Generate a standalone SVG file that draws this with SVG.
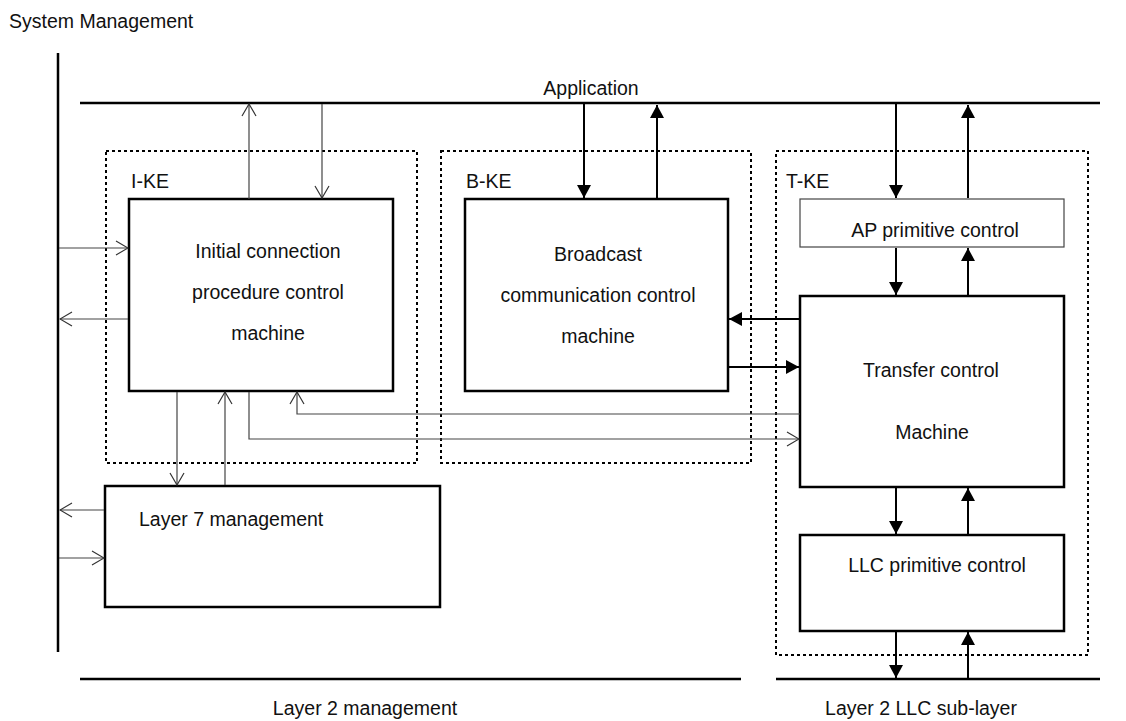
<svg xmlns="http://www.w3.org/2000/svg" width="1126" height="721" viewBox="0 0 1126 721">
<defs>
<marker id="open" markerUnits="userSpaceOnUse" markerWidth="14" markerHeight="16" viewBox="0 0 14 16" refX="13" refY="8" orient="auto">
<path d="M1,1 L13,8 L1,15" fill="none" stroke="#333" stroke-width="1.2"/>
</marker>
<marker id="fill" markerUnits="userSpaceOnUse" markerWidth="14" markerHeight="16" viewBox="0 0 14 16" refX="13" refY="8" orient="auto">
<path d="M0,1 L13,8 L0,15 Z" fill="#000"/>
</marker>
<style>
text{font-family:"Liberation Sans",Arial,sans-serif;font-size:19.5px;fill:#111}
.c{text-anchor:middle}
.rule{stroke:#000;stroke-width:2.5;fill:none}
.box{fill:#fff;stroke:#000;stroke-width:2.5}
.thinbox{fill:#fff;stroke:#444;stroke-width:1.2}
.dot{fill:none;stroke:#000;stroke-width:2;stroke-dasharray:3 3}
.th{fill:none;stroke:#444;stroke-width:1.2}
.tk{fill:none;stroke:#000;stroke-width:2}
</style>
</defs>
<g id="rules">
<text x="9" y="28">System Management</text>
<line class="rule" x1="58" y1="53" x2="58" y2="652"/>
<line class="rule" x1="80" y1="103" x2="1100" y2="103"/>
<text class="c" x="591" y="95">Application</text>
<line class="rule" x1="80" y1="679" x2="741" y2="679"/>
<line class="rule" x1="776" y1="679" x2="1100" y2="679"/>
<text class="c" x="365" y="715">Layer 2 management</text>
<text class="c" x="921" y="715">Layer 2 LLC sub-layer</text>
</g>
<g id="ike">
<rect class="dot" x="106" y="151" width="311" height="312"/>
<text x="131" y="188">I-KE</text>
</g>
<g id="bke">
<rect class="dot" x="441" y="151" width="310" height="312"/>
<text x="466" y="188">B-KE</text>
</g>
<g id="tke">
<rect class="dot" x="776" y="151" width="312" height="504"/>
<text x="786" y="188">T-KE</text>
</g>
<g id="initial">
<rect class="box" x="129" y="199" width="264" height="192"/>
<text class="c" x="268" y="258">Initial connection</text>
<text class="c" x="268" y="299">procedure control</text>
<text class="c" x="268" y="340">machine</text>
</g>
<g id="broadcast">
<rect class="box" x="465" y="199" width="263" height="192"/>
<text class="c" x="598" y="261">Broadcast</text>
<text class="c" x="598" y="302">communication control</text>
<text class="c" x="598" y="343">machine</text>
</g>
<g id="ap">
<rect class="thinbox" x="800" y="199" width="264" height="48"/>
<text class="c" x="935" y="237">AP primitive control</text>
</g>
<g id="transfer">
<rect class="box" x="800" y="296" width="264" height="191"/>
<text class="c" x="931" y="377">Transfer control</text>
<text class="c" x="932" y="439">Machine</text>
</g>
<g id="llc">
<rect class="box" x="800" y="535" width="264" height="96"/>
<text class="c" x="937" y="572">LLC primitive control</text>
</g>
<g id="layer7">
<rect class="box" x="105" y="486" width="335" height="121"/>
<text x="139" y="526">Layer 7 management</text>
</g>
<g id="connectors">
<line class="th" x1="249" y1="199" x2="249" y2="104" marker-end="url(#open)"/>
<line class="th" x1="322" y1="104" x2="322" y2="198" marker-end="url(#open)"/>
<line class="th" x1="59" y1="248" x2="128" y2="248" marker-end="url(#open)"/>
<line class="th" x1="128" y1="319" x2="60" y2="319" marker-end="url(#open)"/>
<line class="th" x1="177" y1="392" x2="177" y2="485" marker-end="url(#open)"/>
<line class="th" x1="225" y1="485" x2="225" y2="392" marker-end="url(#open)"/>
<line class="th" x1="104" y1="510" x2="60" y2="510" marker-end="url(#open)"/>
<line class="th" x1="59" y1="558" x2="104" y2="558" marker-end="url(#open)"/>
<polyline class="th" points="800,414 297,414 297,392" marker-end="url(#open)"/>
<polyline class="th" points="249,392 249,439 799,439" marker-end="url(#open)"/>
<line class="tk" x1="584" y1="104" x2="584" y2="198" marker-end="url(#fill)"/>
<line class="tk" x1="657" y1="198" x2="657" y2="105" marker-end="url(#fill)"/>
<line class="tk" x1="799" y1="319" x2="729" y2="319" marker-end="url(#fill)"/>
<line class="tk" x1="729" y1="367" x2="799" y2="367" marker-end="url(#fill)"/>
<line class="tk" x1="896" y1="104" x2="896" y2="198" marker-end="url(#fill)"/>
<line class="tk" x1="968" y1="198" x2="968" y2="105" marker-end="url(#fill)"/>
<line class="tk" x1="896" y1="248" x2="896" y2="295" marker-end="url(#fill)"/>
<line class="tk" x1="968" y1="295" x2="968" y2="248" marker-end="url(#fill)"/>
<line class="tk" x1="896" y1="488" x2="896" y2="534" marker-end="url(#fill)"/>
<line class="tk" x1="968" y1="534" x2="968" y2="488" marker-end="url(#fill)"/>
<line class="tk" x1="896" y1="632" x2="896" y2="678" marker-end="url(#fill)"/>
<line class="tk" x1="968" y1="678" x2="968" y2="632" marker-end="url(#fill)"/>
</g>
</svg>
